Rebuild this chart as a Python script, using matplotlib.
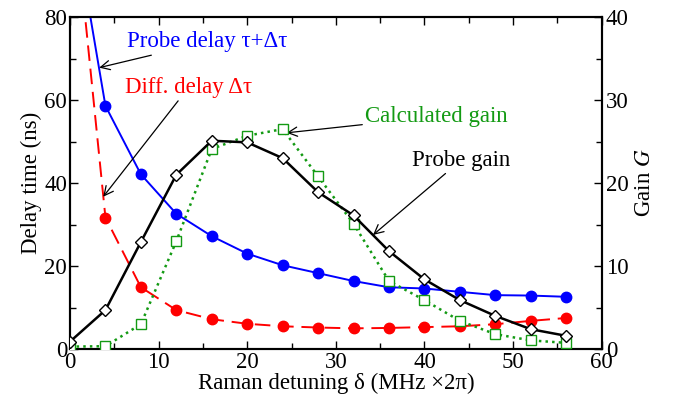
import numpy as np
import matplotlib
matplotlib.use('Agg')
import matplotlib.pyplot as plt
from matplotlib.ticker import MultipleLocator

# ---------------- data ----------------
detuning = [0, 4, 8, 12, 16, 20, 24, 28, 32, 36, 40, 44, 48, 52, 56]

probe_delay = [109, 58.6, 42.1, 32.6, 27.2, 23.0, 20.2, 18.3, 16.4, 14.9,
               14.6, 13.8, 13.0, 12.9, 12.6]
diff_delay = [116, 31.7, 14.9, 9.4, 7.2, 6.1, 5.5, 5.2, 5.0, 5.1,
              5.3, 5.5, 6.0, 6.8, 7.5]
probe_gain = [0.9, 4.7, 12.9, 21.0, 25.1, 24.9, 23.0, 18.9, 16.1, 11.8,
              8.4, 5.9, 4.0, 2.4, 1.6]
calc_gain = [0.3, 0.35, 3.0, 13.0, 24.1, 25.7, 26.5, 20.8, 15.1, 8.2,
             5.9, 3.4, 1.8, 1.05, 0.75]

BLUE = '#0000ff'
RED = '#ff0000'
GREEN = '#139a13'

plt.rcParams['font.family'] = ['Liberation Serif', 'DejaVu Serif']
plt.rcParams['mathtext.fontset'] = 'stix'
FS = 16.5

fig = plt.figure(figsize=(6.73, 4.05), dpi=100)
ax = fig.add_axes([0.104, 0.138, 0.79, 0.82])
ax2 = ax.twinx()

# delay curves (left axis)
ax.plot(detuning, probe_delay, '-', color=BLUE, lw=1.4,
        marker='o', ms=7.5, mfc=BLUE, mec=BLUE, zorder=3)
ax.plot(detuning, diff_delay, '--', color=RED, lw=1.4, dashes=(8, 4),
        marker='o', ms=7.5, mfc=RED, mec=RED, zorder=3)

# gain curves (right axis)
ax2.plot(detuning, calc_gain, ':', color=GREEN, lw=1.8,
         marker='s', ms=6.5, mfc='white', mec=GREEN, mew=1.0, zorder=3)
ax2.plot(detuning, probe_gain, '-', color='black', lw=1.8,
         marker='D', ms=6, mfc='white', mec='black', mew=1.0, zorder=4)

ax.set_xlim(0, 60)
ax.set_ylim(0, 80)
ax2.set_ylim(0, 40)

ax.xaxis.set_major_locator(MultipleLocator(10))
ax.xaxis.set_minor_locator(MultipleLocator(5))
ax.yaxis.set_major_locator(MultipleLocator(20))
ax.yaxis.set_minor_locator(MultipleLocator(10))
ax2.yaxis.set_major_locator(MultipleLocator(10))
ax2.yaxis.set_minor_locator(MultipleLocator(5))

ax.tick_params(which='both', direction='in', top=True, width=1.0,
               labelsize=FS, pad=2)
ax.tick_params(which='major', length=6)
ax.tick_params(which='minor', length=4)
ax2.tick_params(which='both', direction='in', width=1.0, labelsize=FS, pad=3)
ax2.tick_params(which='major', length=6)
ax2.tick_params(which='minor', length=4)

for a in (ax, ax2):
    for s in a.spines.values():
        s.set_linewidth(1.5)

ax.set_xlabel('Raman detuning δ (MHz ×2π)', fontsize=FS, labelpad=0)
ax.set_ylabel('Delay time (ns)', fontsize=FS, labelpad=2)
ax2.set_ylabel(r'Gain $G$', fontsize=FS, labelpad=4)

# annotations
arrow = dict(arrowstyle='->', color='black', lw=0.9, shrinkA=0, shrinkB=0)
ax.annotate('Probe delay τ+Δτ', xy=(3.3, 67.8),
            xytext=(6.4, 74), color=BLUE, fontsize=FS, va='center',
            arrowprops=arrow)
ax.annotate('Diff. delay Δτ', xy=(3.75, 36.7),
            xytext=(6.2, 63), color=RED, fontsize=FS, va='center',
            arrowprops=arrow)
ax.annotate('Calculated gain', xy=(24.45, 52.1),
            xytext=(33.3, 56), color=GREEN, fontsize=FS, va='center',
            arrowprops=arrow)
ax.annotate('Probe gain', xy=(34.2, 27.5),
            xytext=(38.6, 45.5), color='black', fontsize=FS, va='center',
            arrowprops=arrow)

fig.savefig('out.png', dpi=100)
